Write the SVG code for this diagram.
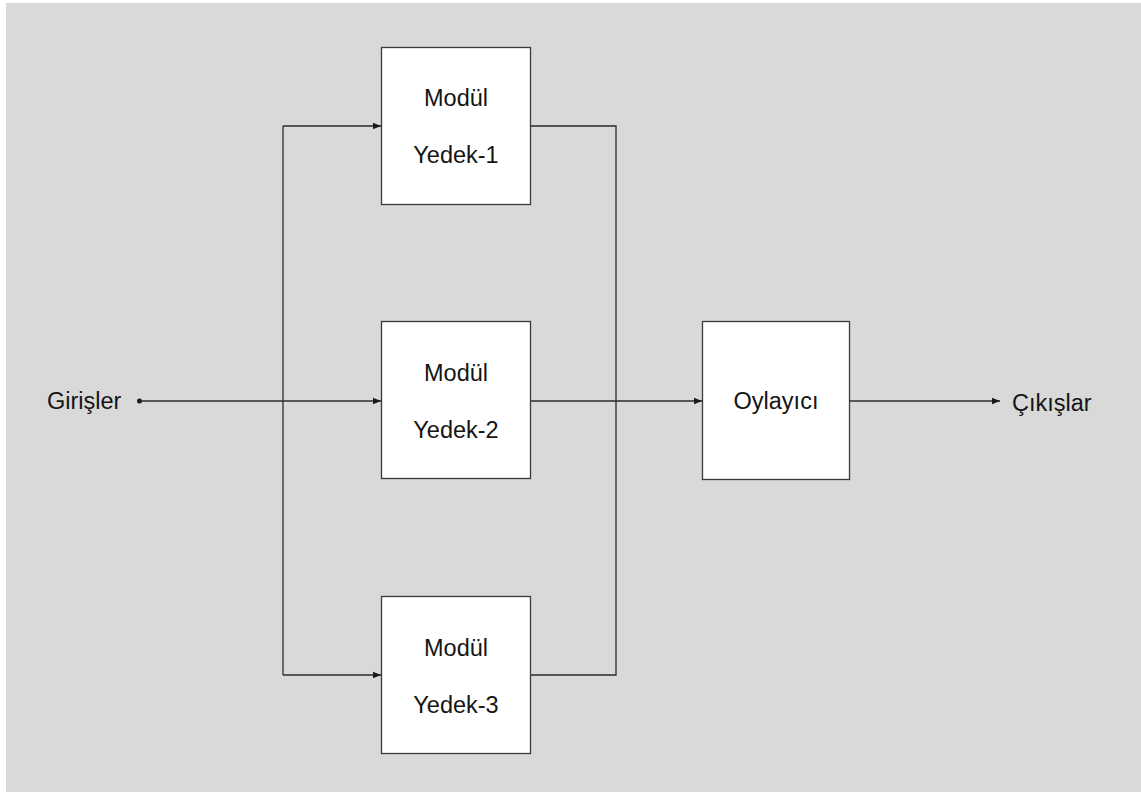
<svg xmlns="http://www.w3.org/2000/svg" width="1141" height="792" viewBox="0 0 1141 792">
  <style>
    .box { fill: #ffffff; stroke: #3a3a3a; stroke-width: 1.3; }
    .wire { fill: none; stroke: #2a2a2a; stroke-width: 1.3; }
    .lbl { font-family: "Liberation Sans", Arial, sans-serif; font-size: 23.5px; fill: #151515; }
    .mid { text-anchor: middle; }
  </style>
  <defs>
    <marker id="arrow" viewBox="0 0 10 10" refX="10" refY="5" markerWidth="8" markerHeight="8" markerUnits="userSpaceOnUse" orient="auto">
      <path d="M0,1 L10,5 L0,9 Z" fill="#1a1a1a"/>
    </marker>
  </defs>

  <!-- canvas -->
  <rect x="6" y="3" width="1135" height="789" fill="#d9d9d9"/>

  <!-- connectors -->
  <g id="connectors">
    <circle cx="139.5" cy="401" r="2.5" fill="#1a1a1a"/>
    <line class="wire" x1="139.5" y1="401" x2="381" y2="401" marker-end="url(#arrow)"/>
    <line class="wire" x1="283" y1="126" x2="283" y2="675"/>
    <line class="wire" x1="283" y1="126" x2="381" y2="126" marker-end="url(#arrow)"/>
    <line class="wire" x1="283" y1="675" x2="381" y2="675" marker-end="url(#arrow)"/>
    <polyline class="wire" points="531,126 616,126 616,675 531,675"/>
    <line class="wire" x1="531" y1="401" x2="702" y2="401" marker-end="url(#arrow)"/>
    <line class="wire" x1="850" y1="401" x2="1000" y2="401" marker-end="url(#arrow)"/>
  </g>

  <!-- nodes -->
  <g id="inputs">
    <text class="lbl" x="47" y="409">Girişler</text>
  </g>

  <g id="module-1">
    <rect class="box" x="381.5" y="47.5" width="149" height="157"/>
    <text class="lbl mid" x="456" y="106">Modül</text>
    <text class="lbl mid" x="456" y="163">Yedek-1</text>
  </g>

  <g id="module-2">
    <rect class="box" x="381.5" y="321.5" width="149" height="157"/>
    <text class="lbl mid" x="456" y="381">Modül</text>
    <text class="lbl mid" x="456" y="438">Yedek-2</text>
  </g>

  <g id="module-3">
    <rect class="box" x="381.5" y="596.5" width="149" height="157"/>
    <text class="lbl mid" x="456" y="656">Modül</text>
    <text class="lbl mid" x="456" y="713">Yedek-3</text>
  </g>

  <g id="voter">
    <rect class="box" x="702.5" y="321.5" width="147" height="158"/>
    <text class="lbl mid" x="776" y="409">Oylayıcı</text>
  </g>

  <g id="outputs">
    <text class="lbl" x="1012" y="411">Çıkışlar</text>
  </g>
</svg>
